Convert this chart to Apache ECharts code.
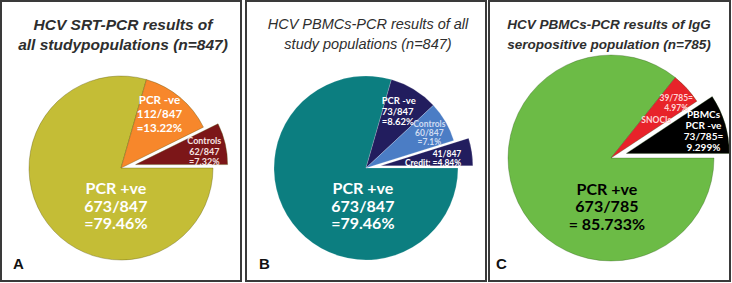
<!DOCTYPE html>
<html>
<head>
<meta charset="utf-8">
<script src="https://cdn.jsdelivr.net/npm/echarts@6/dist/echarts.min.js"></script>
<style>
html,body{margin:0;padding:0;background:#fff;}
#main{width:732px;height:283px;}
</style>
</head>
<body>
<div id="main"></div>
<script>
// A: SRT-PCR, all study populations
var namesA = ['PCR +ve', 'PCR -ve', 'Controls'];
var countsA = [673, 112, 62];
var pctA = ['79.46%', '13.22%', '7.32%'];
var totalA = 847;

// B: PBMCs-PCR, all study populations
var namesB = ['PCR +ve', 'PCR -ve', 'Controls', 'Credit:'];
var countsB = [673, 73, 60, 41];
var pctB = ['79.46%', '8.62%', '7.1%', '4.84%'];
var totalB = 847;

// C: PBMCs-PCR, IgG seropositive
var namesC = ['PCR +ve', 'SNOCIs', 'PBMCs PCR -ve'];
var countsC = [673, 39, 73];
var pctC = ['85.733%', '4.97%', '9.299%'];
var totalC = 785;

var titles = [
  'HCV SRT-PCR results of\nall studypopulations (n=847)',
  'HCV PBMCs-PCR results of all\nstudy populations (n=847)',
  'HCV PBMCs-PCR results of IgG\nseropositive population (n=785)'
];
var letters = ['A', 'B', 'C'];

var colorsA = ['#c4bd36', '#f7872b', '#7c1618'];
var colorsB = ['#0c7e80', '#221d5e', '#4b7dc5', '#221d5e'];
var colorsC = ['#6cbb46', '#e8232a', '#000000'];

var FONT = 'Lato, "Open Sans", sans-serif';

function lbl(size, lh, color) {
  return { show: true, position: 'inside', fontFamily: FONT, fontSize: size, lineHeight: lh,
           color: color, fontWeight: 'bold' };
}

var labA = [
  namesA[0] + '\n' + countsA[0] + '/' + totalA + '\n=' + pctA[0],
  namesA[1] + '\n' + countsA[1] + '/' + totalA + '\n=' + pctA[1],
  namesA[2] + '\n' + countsA[2] + '/' + totalA + '\n=' + pctA[2]
];
var labB = [
  namesB[0] + '\n' + countsB[0] + '/' + totalB + '\n=' + pctB[0],
  namesB[1] + '\n' + countsB[1] + '/' + totalB + '\n=' + pctB[1],
  namesB[2] + '\n' + countsB[2] + '/' + totalB + '\n=' + pctB[2],
  countsB[3] + '/' + totalB + '\n' + namesB[3] + ' =' + pctB[3]
];
var labC = [
  namesC[0] + '\n' + countsC[0] + '/' + totalC + '\n= ' + pctC[0],
  countsC[1] + '/' + totalC + '=\n' + pctC[1] + '\n{s|' + namesC[1] + '}',
  namesC[2].replace(' ', '\n') + '\n' + countsC[2] + '/' + totalC + '=\n' + pctC[2]
];

var styleA = [lbl(16, 17.5, '#fff'), lbl(11.5, 14, '#fff'), lbl(9, 10.5, '#f6e2e2')];
var styleB = [lbl(16, 17.5, '#fff'), lbl(9.5, 10.5, '#fff'), lbl(8.5, 9, '#cfdcf2'), lbl(8.5, 9, '#fff')];
var styleC = [lbl(16, 17.5, '#000'), lbl(8.5, 9.5, '#ffd6d6'), lbl(10, 11, '#fff')];
styleC[1].rich = { s: { fontFamily: FONT, fontSize: 8.5, fontWeight: 'bold', color: '#ffd6d6',
                        lineHeight: 15.5, padding: [0, 40, 0, 0] } };

// label shifts from the default inside position
var shiftA = [[34, 8, 'center'], [7, -17, 'center'], [21, -2, 'center']];
var shiftB = [[36, 8, 'center'], [-10, -15, 'left'], [21, -10, 'center'], [32, 0, 'right']];
var shiftC = [[45, 24, 'center'], [25, -10.5, 'center'], [25, -7, 'center']];

function buildData(names, counts, colors, labels, styles, selIdx) {
  return names.map(function (n, i) {
    var l = styles[i];
    l.formatter = labels[i];
    return {
      name: n, value: counts[i], selected: i === selIdx,
      itemStyle: { color: colors[i] },
      label: l
    };
  });
}

function layoutFn(shift) {
  return function (p) {
    var s = shift[p.dataIndex];
    return { dx: s[0], dy: s[1], align: s[2] };
  };
}

function pie(center, r, data, shift, offset, border) {
  return {
    type: 'pie',
    center: center,
    radius: r,
    startAngle: 0,
    clockwise: true,
    selectedMode: 'multiple',
    selectedOffset: offset,
    avoidLabelOverlap: false,
    labelLine: { show: false },
    itemStyle: { borderColor: border, borderWidth: 0.6 },
    select: { itemStyle: { borderColor: border, borderWidth: 0.6 } },
    emphasis: { disabled: true },
    labelLayout: layoutFn(shift),
    data: data
  };
}

var panelX = [1, 246, 489];
var panelW = [240, 240, 241];
var titleCx = [123, 368, 609];
var titleSize = [15.5, 14.5, 13.5];
var letterX = [13, 259, 496];

var titleOpts = titles.map(function (t, i) {
  return {
    text: t, left: titleCx[i], top: 14, textAlign: 'center', padding: 0,
    textStyle: { fontFamily: '"Liberation Sans", Arial, sans-serif', fontSize: titleSize[i], lineHeight: 20,
                 fontStyle: 'italic', fontWeight: i === 1 ? 'normal' : 'bold', color: '#2e2e2e' }
  };
});
letters.forEach(function (L, i) {
  titleOpts.push({
    text: L, left: letterX[i], top: 256, padding: 0,
    textStyle: { fontFamily: '"Liberation Sans", Arial, sans-serif', fontSize: 15, fontWeight: 'bold', color: '#111' }
  });
});

var chart = echarts.init(document.getElementById('main'), null, { renderer: 'svg' });
chart.setOption({
  animation: false,
  backgroundColor: '#fff',
  title: titleOpts,
  graphic: panelX.map(function (x, i) {
    return { type: 'rect', shape: { x: x, y: 1, width: panelW[i], height: 280 }, z: 100,
             style: { fill: 'none', stroke: '#3a3a3a', lineWidth: 2 } };
  }),
  series: [
    pie([121, 168], 92, buildData(namesA, countsA, colorsA, labA, styleA, 2), shiftA, 15, 'rgba(90,85,10,0.6)'),
    pie([366, 168], 92, buildData(namesB, countsB, colorsB, labB, styleB, 3), shiftB, 15, 'rgba(255,255,255,0.3)'),
    pie([611, 158], 103, buildData(namesC, countsC, colorsC, labC, styleC, 2), shiftC, 16, 'rgba(40,80,20,0.5)')
  ]
});
</script>
</body>
</html>
